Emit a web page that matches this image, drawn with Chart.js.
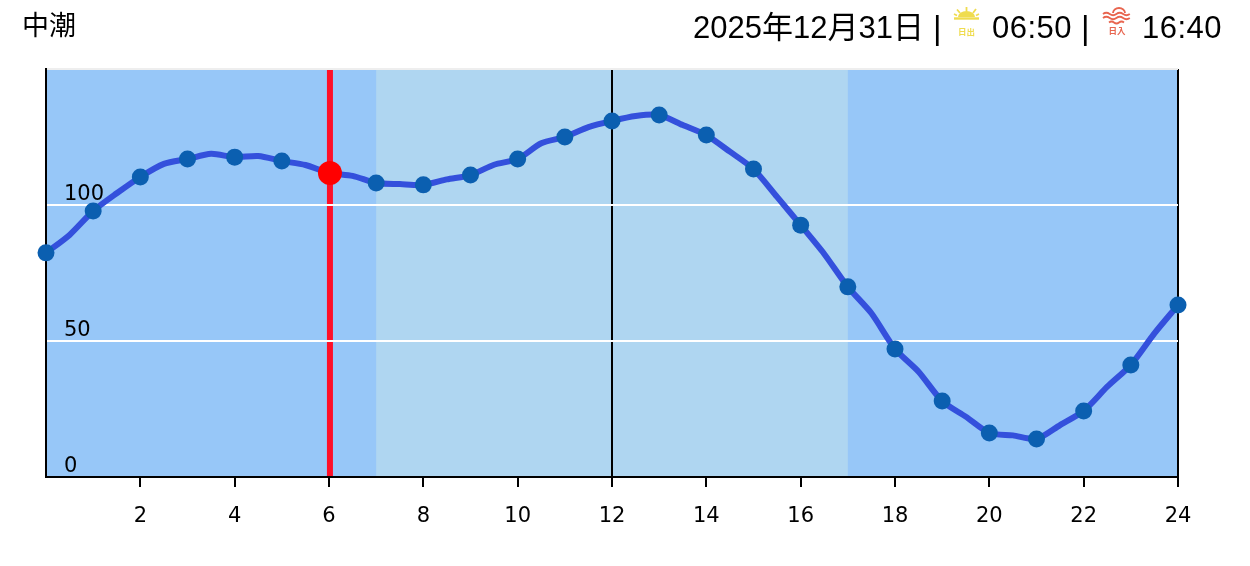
<!DOCTYPE html>
<html lang="ja">
<head>
<meta charset="utf-8">
<title>中潮</title>
<script src="https://cdn.jsdelivr.net/npm/chart.js@4/dist/chart.umd.min.js"></script>
<style>
    body { margin: 0; background: #fff; }
    #wrap { position: relative; width: 1250px; height: 566px; overflow: hidden; }
    canvas { position: absolute; left: 0; top: 0; }
    .txt { position: absolute; white-space: nowrap; color: #000; line-height: 36px; font-family: "Liberation Sans", "Noto Sans CJK JP", sans-serif; font-size: 31px; }
    svg { position: absolute; }
</style>
</head>
<body>
<div id="wrap">
    <canvas id="tideChart" width="1250" height="566"></canvas>
    <span class="txt" style="left:22px;top:8px;font-size:27px;">中潮</span>
    <span class="txt" style="left:693px;top:10px;">2025年12月31日</span>
    <span class="txt" style="left:933px;top:10px;font-size:33px;">|</span>
    <svg style="left:952px;top:5px;" width="30" height="32" viewBox="0 0 30 32">
        <path d="M6 12 a8.500 6 0 0 1 17 0 z" fill="#efdc4f"/>
        <path d="M2 13.500 h25" stroke="#efdc4f" stroke-width="2.400"/>
        <path d="M14.500 2 v4 M5 4.500 l3 3.500 M24 4 l-3 4 M2 9 l3 1.500 M27 9 l-3 1.500" stroke="#efdc4f" stroke-width="1.800"/>
        <text x="14.500" y="30" text-anchor="middle" font-size="8.500" font-weight="bold" font-family="Noto Sans CJK JP" fill="#efdc4f">日出</text>
    </svg>
    <span class="txt" style="left:992px;top:10px;letter-spacing:.5px;">06:50</span>
    <span class="txt" style="left:1081px;top:10px;font-size:33px;">|</span>
    <svg style="left:1102px;top:5px;" width="30" height="32" viewBox="0 0 30 32">
        <path d="M11 8 a6 5 0 0 1 12 0" fill="none" stroke="#e8654f" stroke-width="1.800"/>
        <path d="M1 9 q3.300 -2.500 6.700 0 t6.700 0 t6.700 0 t6.700 0 M1 13 q3.300 -2.500 6.700 0 t6.700 0 t6.700 0 t6.700 0 M7 17.500 q2.500 -2 5 0 t5 0 t5 0" fill="none" stroke="#e8654f" stroke-width="1.800"/>
        <text x="15" y="29" text-anchor="middle" font-size="8.500" font-weight="bold" font-family="Noto Sans CJK JP" fill="#e8654f">日入</text>
    </svg>
    <span class="txt" style="left:1142px;top:10px;letter-spacing:.5px;">16:40</span>
</div>
<script>
// Tide data
const hours = [0, 1, 2, 3, 4, 5, 6, 7, 8, 9, 10, 11, 12, 13, 14, 15, 16, 17, 18, 19, 20, 21, 22, 23, 24];
const tideLevels = [82.4, 97.8, 110.3, 116.9, 117.6, 116.2, 111.8, 108.1, 107.4, 111, 116.9, 125, 130.9, 133.1, 125.7, 113.2, 92.6, 69.9, 47.1, 27.9, 16.2, 14, 24.3, 41.2, 63.2];
// Half hour readings of the line between the dots
const halfHours = [0.5, 1.5, 2.5, 3.5, 4.5, 5.5, 6.5, 7.5, 8.5, 9.5, 10.5, 11.5, 12.5, 13.5, 14.5, 15.5, 16.5, 17.5, 18.5, 19.5, 20.5, 21.5, 22.5, 23.5];
const halfLevels = [89, 104.3, 115.1, 118.8, 118, 114.7, 110.7, 107.7, 109.4, 114.8, 122.7, 128.6, 132.7, 129.4, 119.6, 103, 82, 60.2, 38.7, 22.2, 15.3, 19.1, 33.2, 52.8];
const currentHour = [6.02];
const currentLevel = [111.8];
const daylight = [7, 17];
const yTicks = [0, 50, 100, 150];

const linePoints = hours.map((h, i) => ({ x: h, y: tideLevels[i] }))
    .concat(halfHours.map((h, i) => ({ x: h, y: halfLevels[i] })))
    .sort((a, b) => a.x - b.x);

// Background bands and the red "now" line sit under the grid
const backdrop = {
    id: 'backdrop',
    beforeDraw(chart) {
        const { ctx, chartArea, scales } = chart;
        const h = chartArea.bottom - chartArea.top;
        ctx.save();
        ctx.fillStyle = '#97c7f8';
        ctx.fillRect(chartArea.left, chartArea.top, chartArea.right - chartArea.left, h);
        ctx.fillStyle = '#afd6f1';
        ctx.fillRect(scales.x.getPixelForValue(daylight[0]), chartArea.top, scales.x.getPixelForValue(daylight[1]) - scales.x.getPixelForValue(daylight[0]), h);
        ctx.fillStyle = '#ff0f28';
        ctx.fillRect(scales.x.getPixelForValue(currentHour[0]) - 3, chartArea.top, 6, h);
        ctx.restore();
    }
};

new Chart(document.getElementById('tideChart').getContext('2d'), {
    type: 'line',
    data: {
        datasets: [
            {
                data: currentHour.map((h, i) => ({ x: h, y: currentLevel[i] })),
                pointRadius: 12,
                pointBackgroundColor: '#ff0000',
                pointBorderWidth: 0,
                showLine: false,
                clip: false,
                order: 0
            },
            {
                data: hours.map((h, i) => ({ x: h, y: tideLevels[i] })),
                showLine: false,
                pointRadius: 8.5,
                pointBackgroundColor: '#0b5fb0',
                pointBorderWidth: 0,
                clip: false,
                order: 1
            },
            {
                data: linePoints,
                borderColor: '#3450dc',
                borderWidth: 6,
                tension: 0.25,
                pointRadius: 0,
                clip: false,
                order: 2
            }
        ]
    },
    plugins: [backdrop],
    options: {
        responsive: false,
        animation: false,
        layout: { padding: { left: 46, top: 69, right: 72, bottom: 0 } },
        plugins: { legend: { display: false }, tooltip: { enabled: false } },
        scales: {
            x: {
                type: 'linear',
                min: 0,
                max: 24,
                afterFit: s => { s.height = 89; },
                border: { color: '#000', width: 2 },
                grid: {
                    lineWidth: 2,
                    tickLength: 10,
                    color: c => (c.tick && (c.tick.value === 12 || c.tick.value === 24) ? '#000' : 'transparent'),
                    tickColor: c => (c.tick && c.tick.value === 0 ? 'transparent' : '#000')
                },
                ticks: {
                    stepSize: 2,
                    maxRotation: 0,
                    autoSkip: false,
                    padding: 17,
                    color: '#000',
                    font: { family: 'DejaVu Sans', size: 21 },
                    callback: v => (v === 0 ? '' : v)
                }
            },
            y: {
                min: 0,
                max: 150,
                afterFit: s => { s.width = 0; },
                afterBuildTicks: s => { s.ticks = yTicks.map(v => ({ value: v })); },
                border: { color: '#000', width: 2 },
                grid: {
                    lineWidth: 2,
                    drawTicks: false,
                    color: c => {
                        if (!c.tick || c.tick.value === 0) return 'transparent';
                        return c.tick.value === 150 ? '#eeeeee' : '#ffffff';
                    }
                },
                ticks: {
                    mirror: true,
                    padding: 18,
                    labelOffset: -10,
                    color: '#000',
                    font: { family: 'DejaVu Sans', size: 21 },
                    callback: v => (v === 150 ? '' : v)
                }
            }
        }
    }
});
</script>
</body>
</html>
